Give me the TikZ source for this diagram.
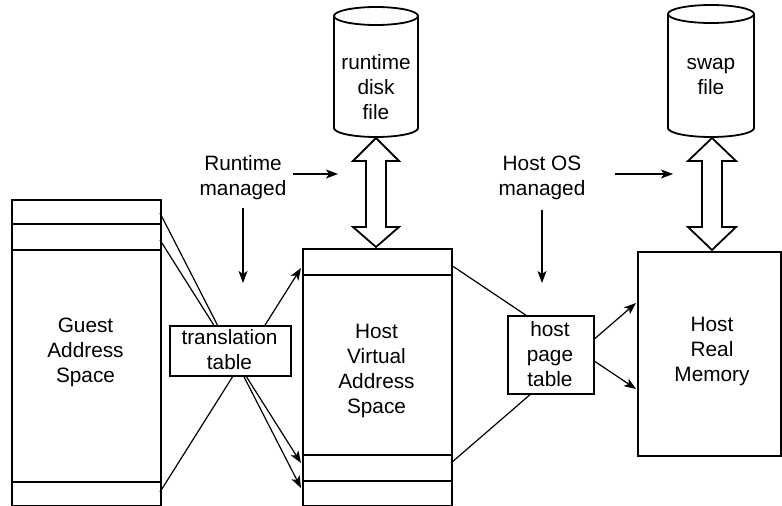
\documentclass[tikz,border=0pt]{standalone}
\usepackage{fontspec}
\setmainfont{Liberation Sans}
\usetikzlibrary{arrows.meta}
\begin{document}
\begin{tikzpicture}[x=1pt,y=-1pt,
  box/.style={draw,line width=1.8pt,inner sep=0pt},
  strip/.style={line width=1.8pt},
  lbl/.style={align=center,inner sep=0pt,font=\fontsize{20.8}{25}\selectfont},
  conn/.style={line width=1.2pt,-{Stealth[length=12pt,width=9pt,inset=3pt]}},
  dbl/.style={draw,line width=1.8pt,fill=white,line join=miter}]
\useasboundingbox (0,0) rectangle (782,506);

% ---- main boxes
\node[box,minimum width=149pt,minimum height=306pt,anchor=north west] (guest) at (11,199) {};
\draw[strip] (11,224) -- (160,224) (11,250) -- (160,250) (11,482) -- (160,482);
\node[lbl] (guesttxt) at (85.5,352) {Guest\\Address\\Space};

\node[box,minimum width=149pt,minimum height=257pt,anchor=north west] (hv) at (302,248) {};
\draw[strip] (302,275) -- (451,275) (302,455) -- (451,455) (302,481) -- (451,481);
\node[lbl] (hvtxt) at (376.5,371) {Host\\Virtual\\Address\\Space};

\node[box,minimum width=143pt,minimum height=204pt,anchor=north west] (hrm) at (637,251) {};
\node[lbl] (hrmtxt) at (712,351) {Host\\Real\\Memory};

% ---- connection points
\coordinate (g1) at (160,213);
\coordinate (g2) at (160,240);
\coordinate (g3) at (160,492);
\coordinate (h1) at (301,268);
\coordinate (h3) at (301,463);
\coordinate (h4) at (301,488);
\coordinate (v1) at (451,265);
\coordinate (v2) at (451,463);
\coordinate (r1) at (636,303);
\coordinate (r2) at (636,389);

\draw[conn] (g1) -- (h4);
\draw[conn] (g2) -- (h3);
\draw[conn] (g3) -- (h1);
\draw[conn] (v1) -- (r2);
\draw[conn] (v2) -- (r1);

% ---- tables (on top of the lines)
\node[box,fill=white,minimum width=121pt,minimum height=50pt,anchor=north west] (tt) at (169,325) {};
\node[lbl] (tttxt) at (229.5,350) {translation\\table};
\node[box,fill=white,minimum width=86pt,minimum height=78pt,anchor=north west] (hpt) at (507,315) {};
\node[lbl] (hpttxt) at (550,354) {host\\page\\table};

% ---- cylinders
\draw[strip,fill=white] (334,16) -- (334,128) .. controls (334,133) and (352.8,137) .. (376,137)
  .. controls (399.2,137) and (418,133) .. (418,128) -- (418,16);
\draw[strip,fill=white] (376,16) ellipse [x radius=42,y radius=9];
\node[lbl] (disk) at (376,87) {runtime\\disk\\file};

\draw[strip,fill=white] (668,14) -- (668,128) .. controls (668,133) and (687.3,137) .. (711,137)
  .. controls (734.7,137) and (754,133) .. (754,128) -- (754,14);
\draw[strip,fill=white] (711,14) ellipse [x radius=43,y radius=9];
\node[lbl] (swap) at (711,77) {swap\\file};

% ---- double arrows
\draw[dbl] (376,138) -- (399,161) -- (386,161) -- (386,227) -- (399,227) -- (376,247)
  -- (353,227) -- (366,227) -- (366,161) -- (353,161) -- cycle;
\draw[dbl] (712,138) -- (736,161) -- (722,161) -- (722,227) -- (736,227) -- (712,250)
  -- (688,227) -- (702,227) -- (702,161) -- (688,161) -- cycle;

% ---- management labels
\node[lbl] (rt) at (243,178) {Runtime\\managed};
\coordinate (rtA) at (293,174);
\coordinate (rtB) at (338,174);
\coordinate (rtC) at (243,208);
\coordinate (rtD) at (243,283);
\draw[conn] (rtA) -- (rtB);
\draw[conn] (rtC) -- (rtD);

\node[lbl] (os) at (542,178) {Host OS\\managed};
\coordinate (osA) at (615,174);
\coordinate (osB) at (673,174);
\coordinate (osC) at (542,210);
\coordinate (osD) at (542,283);
\draw[conn] (osA) -- (osB);
\draw[conn] (osC) -- (osD);
\end{tikzpicture}
\end{document}
